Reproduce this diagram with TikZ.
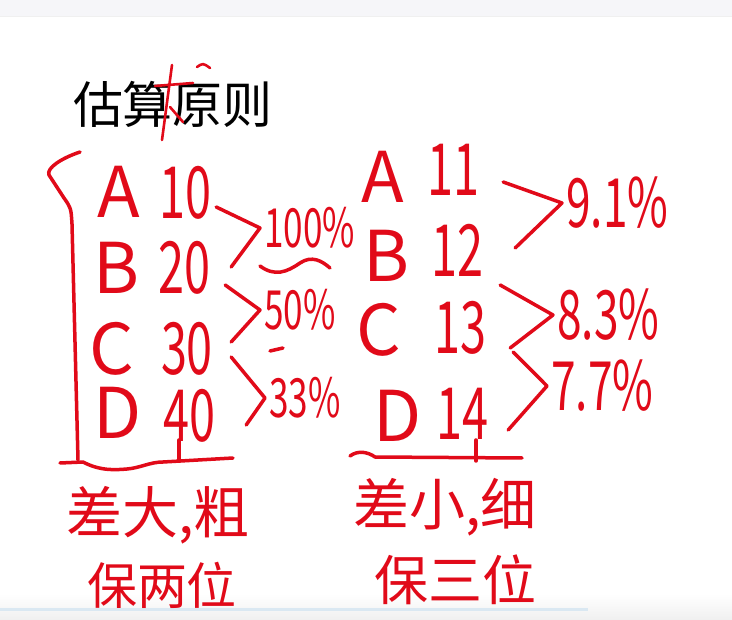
\documentclass[tikz,border=0pt]{standalone}
\usepackage{fontspec}
\newfontfamily\cjk{Noto Sans CJK SC}
\newfontfamily\cjknarrow[FakeStretch=0.65]{Noto Sans CJK SC}

\definecolor{penred}{RGB}{225,10,25}
\definecolor{bandgray}{RGB}{246,246,249}
\definecolor{barblue}{RGB}{218,232,242}

\begin{document}
\begin{tikzpicture}[
  x=1pt, y=-1pt,
  every node/.style = {inner sep=0pt},
  penline/.style   = {penred, line width=3.5pt, line cap=round, line join=round},
  handletter/.style = {text=penred, font=\cjk\fontsize{70}{70}\selectfont},
  handnum/.style    = {text=penred, font=\cjknarrow\fontsize{72}{72}\selectfont},
  handpct/.style    = {text=penred, font=\cjknarrow\fontsize{54}{54}\selectfont, anchor=west},
  bigpct/.style     = {handpct, font=\cjknarrow\fontsize{68}{68}\selectfont},
  handnote/.style   = {text=penred, font=\cjk\fontsize{56}{56}\selectfont},
]

%% ── Page (1pt = 1px of the slide) ───────────────────────────────────────────
\useasboundingbox (0,0) rectangle (732,620);
\fill[white] (0,0) rectangle (732,620);
\fill[bandgray] (0,0) rectangle (732,16);
\draw[gray!12] (0,16) -- (732,16);
\shade[top color=white, bottom color=gray!12] (0,594) rectangle (732,620);
\draw[barblue, line width=3pt] (0,610) -- (588,610);

%% ── Title ───────────────────────────────────────────────────────────────────
\node[font=\cjk\fontsize{50}{50}\selectfont] (title) at (173,104) {估算原则};
% red correction mark over the title
\draw[penline, line width=2.6pt] (172,65) -- (162,140);
\draw[penline, line width=2.6pt] (155,86) -- (193,83);
\draw[penline, line width=2.6pt] (170,107) -- (183,122);
\draw[penline, line width=2.6pt] (197,67) .. controls (203,63) .. (210,68);

%% ── Left group: big differences ─────────────────────────────────────────────
\foreach \lab/\x/\y in {A/119/192, B/116/268, C/112/349, D/118/413}{
  \node[handletter] (l\lab) at (\x,\y) {\lab};
}
\foreach \v/\x/\y in {10/185/193, 20/184/268, 30/187/349, 40/189/416}{
  \node[handnum] (n\v) at (\x,\y) {\v};
}

% brace and base line
\draw[penline] (80,152) .. controls (62,158) and (46,168) .. (49,175)
  -- (64,198) .. controls (71,208) .. (72,224) -- (78,460);
\draw[penline] (60,463) -- (83,462)
  .. controls (100,471) and (115,470) .. (127,469)
  .. controls (140,468) and (150,462) .. (163,462) -- (233,458);
\draw[penline] (179,440) -- (179,460);

% ratios
\node[handpct] (p100) at (264,228) {100\%};
\node[handpct] (p50)  at (264,310) {50\%};
\node[handpct] (p33)  at (269,398) {33\%};

\draw[penline] ([shift={(5,14)}]n10.east) -- ([xshift=-4pt]p100.west)
  -- ([shift={(21,-1)}]n20.east);
\draw[penline] ([shift={(15,17)}]n20.east) -- ([xshift=-4pt]p50.west)
  -- ([shift={(18,-7)}]n30.east);
\draw[penline] ([shift={(18,8)}]n30.east) -- ([xshift=-4pt]p33.west)
  -- ([shift={(31,9)}]n40.east);

\draw[penline] (260,266) .. controls (275,277) and (287,272) .. (300,263)
  .. controls (312,255) and (322,261) .. (330,268);
\draw[penline] (270,351) -- (283,348);

%% ── Right group: small differences ──────────────────────────────────────────
\foreach \lab/\x/\y in {A/383/177, B/386/256, C/379/330, D/398/416}{
  \node[handletter] (r\lab) at (\x,\y) {\lab};
}
\foreach \v/\x/\y in {11/453/170, 12/457/250, 13/460/328, 14/462/414}{
  \node[handnum] (n\v) at (\x,\y) {\v};
}

% base line
\draw[penline] (350,456) .. controls (358,450) and (368,452) .. (375,457)
  -- (522,458);
\draw[penline] (476,440) -- (476,461);

% ratios
\node[bigpct] (p91) at (566,203) {9.1\%};
\node[bigpct] (p83) at (557,315) {8.3\%};
\node[bigpct] (p77) at (551,386) {7.7\%};

\draw[penline] ([shift={(24,12)}]n11.east) -- ([xshift=-4pt]p91.west)
  -- ([shift={(32,-2)}]n12.east);
\draw[penline] ([shift={(17,35)}]n12.east) -- ([xshift=-4pt]p83.west)
  -- ([shift={(24,20)}]n13.east);
\draw[penline] ([shift={(27,24)}]n13.east) -- ([xshift=-4pt]p77.west)
  -- ([shift={(20,16)}]n14.east);

%% ── Notes under each group ──────────────────────────────────────────────────
\node[handnote] (bigdiff)   at (158,515) {差大,粗};
\node[handnote, font=\cjk\fontsize{50}{50}\selectfont] (keeptwo) at (162,585) {保两位};
\node[handnote] (smalldiff) at (445,507) {差小,细};
\node[handnote, font=\cjk\fontsize{54}{54}\selectfont] (keepthree) at (455,580) {保三位};

\end{tikzpicture}
\end{document}
